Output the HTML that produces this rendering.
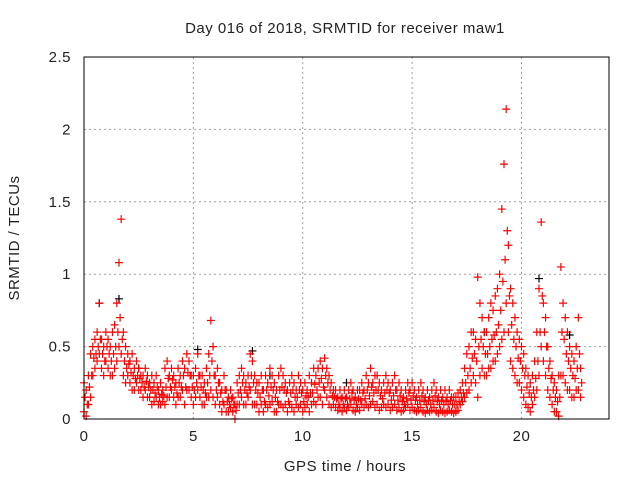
<!DOCTYPE html>
<html><head><meta charset="utf-8"><style>
body{margin:0;background:#fff;}
svg text{font-family:"Liberation Sans",sans-serif;font-size:15px;letter-spacing:0.5px;fill:#222;}
</style></head><body>
<svg id="chart" width="640" height="480" xmlns="http://www.w3.org/2000/svg">
<rect width="640" height="480" fill="#fff"/>
<text x="345" y="33" text-anchor="middle">Day 016 of 2018, SRMTID for receiver maw1</text>
<text x="0" y="0" text-anchor="middle" transform="translate(19,238) rotate(-90)">SRMTID / TECUs</text>
<text x="345" y="471" text-anchor="middle">GPS time / hours</text>
<g id="grid"></g><g id="ticks"></g><g id="marks"></g>
<rect x="84" y="57" width="525" height="362" fill="none" stroke="#000" stroke-width="1"/>
</svg>
<script>
const xTicks=[0,5,10,15,20];
const yTicks=[0,0.5,1,1.5,2,2.5];
const yTickLabels=["0","0.5","1","1.5","2","2.5"];
const tStep=0.1;
const redHi=[0.05,0.2,0.3,0.45,0.5,0.55,0.6,0.8,0.55,0.5,
0.6,0.55,0.5,0.6,0.65,0.8,1.08,1.38,0.6,0.5,
0.45,0.4,0.45,0.35,0.4,0.35,0.3,0.3,0.35,0.3,
0.25,0.3,0.25,0.3,0.2,0.25,0.2,0.35,0.4,0.3,
0.35,0.3,0.25,0.35,0.3,0.4,0.35,0.45,0.4,0.3,
0.3,0.35,0.45,0.3,0.3,0.25,0.35,0.45,0.68,0.5,
0.3,0.35,0.25,0.2,0.3,0.2,0.15,0.2,0.15,0.1,
0.25,0.3,0.35,0.3,0.25,0.3,0.45,0.4,0.3,0.25,
0.25,0.3,0.2,0.3,0.25,0.35,0.3,0.25,0.2,0.3,
0.35,0.3,0.25,0.2,0.25,0.3,0.25,0.2,0.3,0.25,
0.2,0.25,0.2,0.3,0.25,0.35,0.3,0.35,0.4,0.35,
0.42,0.35,0.3,0.25,0.2,0.2,0.15,0.2,0.15,0.2,
0.15,0.2,0.25,0.2,0.15,0.2,0.2,0.25,0.2,0.3,
0.25,0.35,0.25,0.3,0.3,0.25,0.2,0.25,0.3,0.25,
0.2,0.25,0.3,0.2,0.25,0.2,0.15,0.2,0.25,0.2,
0.25,0.2,0.15,0.2,0.25,0.2,0.15,0.2,0.15,0.2,
0.25,0.2,0.15,0.2,0.15,0.2,0.15,0.2,0.15,0.15,
0.15,0.18,0.2,0.25,0.35,0.45,0.5,0.6,0.6,0.55,
0.98,0.8,0.7,0.6,0.6,0.7,0.8,0.75,0.85,0.9,
1.0,1.45,1.76,2.14,1.2,0.9,0.8,0.7,0.6,0.55,
0.5,0.45,0.35,0.3,0.25,0.3,0.4,0.6,0.9,1.36,
0.8,0.7,0.5,0.4,0.3,0.25,0.2,0.3,1.05,0.8,
0.7,0.6,0.5,0.45,0.4,0.5,0.7,0.35];
const redLo=[0.25,0.02,0.1,0.15,0.3,0.35,0.4,0.45,0.35,0.3,
0.4,0.35,0.3,0.3,0.35,0.4,0.5,0.45,0.3,0.25,
0.3,0.25,0.2,0.2,0.25,0.2,0.2,0.15,0.2,0.15,
0.15,0.1,0.12,0.15,0.1,0.1,0.12,0.1,0.15,0.15,
0.2,0.15,0.1,0.15,0.15,0.2,0.1,0.2,0.2,0.15,
0.1,0.15,0.2,0.15,0.1,0.1,0.15,0.15,0.2,0.15,
0.1,0.15,0.1,0.05,0.1,0.05,0.05,0.08,0.05,0.0,
0.1,0.1,0.15,0.1,0.1,0.15,0.2,0.1,0.1,0.1,
0.05,0.1,0.05,0.1,0.08,0.1,0.12,0.05,0.05,0.1,
0.1,0.08,0.1,0.05,0.1,0.08,0.05,0.1,0.08,0.1,
0.05,0.08,0.1,0.05,0.1,0.12,0.1,0.15,0.15,0.1,
0.2,0.15,0.1,0.08,0.1,0.08,0.06,0.08,0.05,0.08,
0.06,0.08,0.1,0.06,0.05,0.08,0.06,0.1,0.08,0.1,
0.08,0.1,0.12,0.08,0.1,0.06,0.08,0.1,0.08,0.1,
0.06,0.08,0.1,0.06,0.08,0.05,0.06,0.08,0.1,0.06,
0.08,0.06,0.05,0.06,0.08,0.05,0.04,0.06,0.05,0.06,
0.08,0.05,0.04,0.06,0.05,0.04,0.05,0.06,0.05,0.04,
0.05,0.06,0.1,0.12,0.15,0.18,0.2,0.25,0.3,0.25,
0.15,0.3,0.35,0.3,0.3,0.35,0.35,0.4,0.4,0.45,
0.5,0.55,0.6,0.8,0.6,0.4,0.35,0.3,0.25,0.25,
0.2,0.15,0.1,0.08,0.05,0.1,0.15,0.2,0.3,0.5,
0.4,0.3,0.2,0.15,0.1,0.05,0.05,0.02,0.3,0.3,
0.25,0.2,0.2,0.15,0.15,0.2,0.2,0.15];
const redMid=[0.15,0.1,0.22,0.3,0.42,0.45,0.5,0.55,0.45,0.4,
0.5,0.45,0.4,0.45,0.5,0.6,0.7,0.55,0.4,0.35,
0.38,0.32,0.3,0.28,0.3,0.28,0.25,0.22,0.26,0.22,
0.2,0.2,0.18,0.22,0.15,0.17,0.16,0.22,0.28,0.22,
0.27,0.22,0.18,0.25,0.22,0.3,0.22,0.32,0.3,0.22,
0.2,0.25,0.3,0.22,0.2,0.18,0.25,0.3,0.4,0.3,
0.2,0.25,0.18,0.12,0.2,0.12,0.1,0.14,0.1,0.06,
0.18,0.2,0.25,0.2,0.18,0.22,0.3,0.25,0.2,0.18,
0.15,0.2,0.12,0.2,0.16,0.22,0.2,0.15,0.12,0.2,
0.22,0.2,0.18,0.12,0.18,0.2,0.15,0.15,0.2,0.18,
0.12,0.16,0.15,0.18,0.18,0.24,0.2,0.25,0.28,0.22,
0.3,0.25,0.2,0.16,0.15,0.14,0.1,0.14,0.1,0.14,
0.1,0.14,0.18,0.13,0.1,0.14,0.13,0.18,0.14,0.2,
0.16,0.22,0.18,0.2,0.2,0.16,0.14,0.18,0.2,0.18,
0.13,0.16,0.2,0.13,0.16,0.12,0.1,0.14,0.18,0.13,
0.16,0.13,0.1,0.13,0.16,0.12,0.1,0.13,0.1,0.13,
0.16,0.12,0.1,0.13,0.1,0.12,0.1,0.13,0.1,0.1,
0.1,0.12,0.15,0.18,0.25,0.3,0.35,0.42,0.45,0.4,
0.5,0.55,0.5,0.45,0.45,0.5,0.55,0.58,0.6,0.65,
0.75,0.95,1.1,1.3,0.85,0.65,0.55,0.5,0.42,0.4,
0.35,0.3,0.22,0.18,0.15,0.2,0.28,0.4,0.6,0.85,
0.6,0.5,0.35,0.28,0.2,0.15,0.12,0.15,0.6,0.55,
0.45,0.4,0.35,0.3,0.28,0.35,0.45,0.25];
const blackT=[0.7,1.6,5.2,7.7,8.5,12,20.8,22.2,2.5,18.3];
const blackV=[0.8,0.83,0.48,0.47,0.3,0.25,0.97,0.58,0.35,0.6];
const NS="http://www.w3.org/2000/svg";
const X0=84,X1=609,Y0=419,Y1=57;
function xs(t){return X0+(t/24)*(X1-X0);}
function ys(v){return Y0-(v/2.5)*(Y0-Y1);}
const grid=document.getElementById('grid'),ticks=document.getElementById('ticks'),marks=document.getElementById('marks');
function mk(tag,attrs,parent){const e=document.createElementNS(NS,tag);for(const k in attrs)e.setAttribute(k,attrs[k]);parent.appendChild(e);return e;}
xTicks.forEach(t=>{
  const x=xs(t);
  if(t>0){const g=mk('line',{x1:x,x2:x,y1:Y1,y2:Y0,stroke:'#a0a0a0','stroke-dasharray':'2,3'},grid);
  
  }
  const l=mk('text',{x:x,y:Y0+22,'text-anchor':'middle'},ticks);l.textContent=t;
  
  
});
yTicks.forEach((v,i)=>{
  const y=ys(v);
  if(v>0&&v<2.5){const g=mk('line',{x1:X0,x2:X1,y1:y,y2:y,stroke:'#a0a0a0','stroke-dasharray':'2,3'},grid);
  
  }
  const l=mk('text',{x:71,y:y+5,'text-anchor':'end'},ticks);l.textContent=yTickLabels[i];
  
  
});
function plus(t,v,color){
  const x=xs(t),y=ys(v);
  const p=mk('path',{d:`M${x-4} ${y}H${x+4}M${x} ${y-4}V${y+4}`,stroke:color,'stroke-width':1.2,fill:'none'},marks);
  
  
}
blackT.forEach((t,i)=>plus(t,blackV[i],'#000'));
redHi.forEach((v,i)=>plus(i*tStep,v,'#ff0000'));
redLo.forEach((v,i)=>plus(i*tStep,v,'#ff0000'));
redMid.forEach((v,i)=>plus(i*tStep+0.05,v,'#ff0000'));
</script>
</body></html>
